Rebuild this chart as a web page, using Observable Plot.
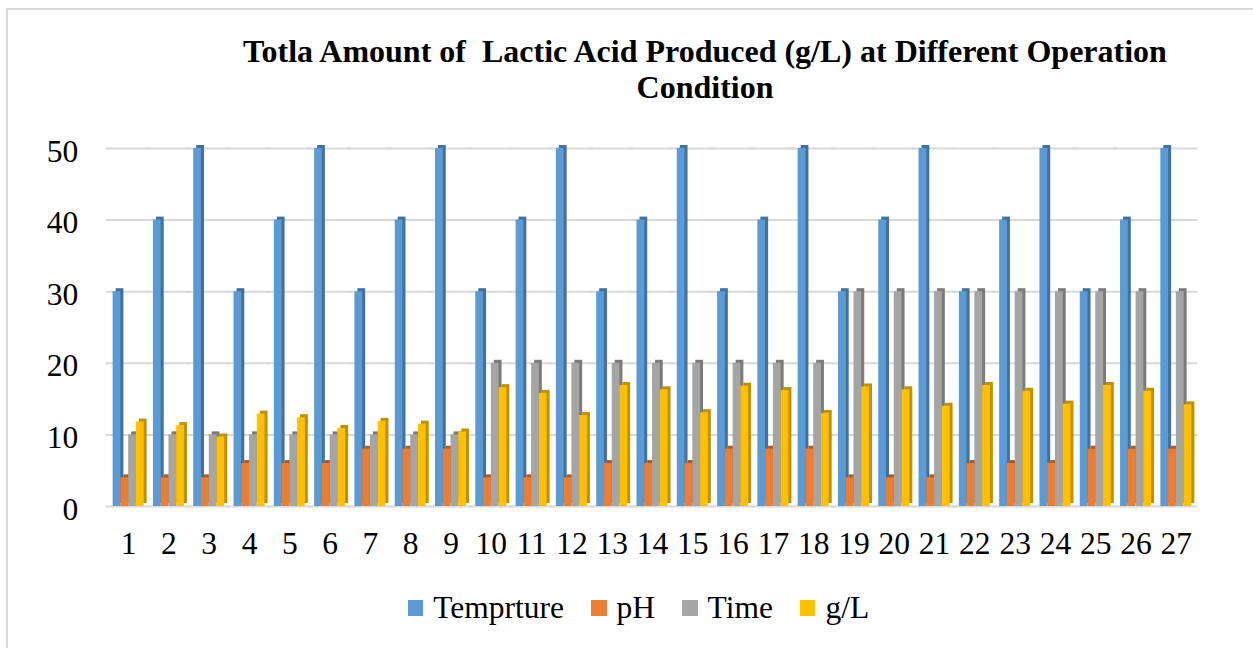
<!DOCTYPE html>
<html>
<head>
<meta charset="utf-8">
<script src="https://cdn.jsdelivr.net/npm/d3@7"></script>
<script src="https://cdn.jsdelivr.net/npm/@observablehq/plot@0.6"></script>
<style>
  html, body { margin: 0; padding: 0; background: #fff; overflow: hidden; }
  body { width: 1253px; height: 648px; position: relative; font-family: "Liberation Serif", "Times New Roman", serif; color: #000; }
  #frame { position: absolute; left: 6px; top: 8px; width: 1400px; height: 800px; border: 2px solid #d9d9d9; box-sizing: border-box; }
  #title { position: absolute; left: 157px; top: 33px; width: 1096px; text-align: center; font-weight: bold; font-size: 32px; line-height: 36px; white-space: pre; }
  #chart { position: absolute; left: 0; top: 110px; }
  #legend { position: absolute; left: 24px; top: 592px; width: 1229px; display: flex; justify-content: center; align-items: center; font-size: 31.5px; line-height: 32px; }
  .item { display: flex; align-items: center; margin: 0 13.5px; }
  .swatch { width: 15.5px; height: 15.5px; margin-right: 10px; }
</style>
</head>
<body>
<div id="frame"></div>
<div id="title">Totla Amount of  Lactic Acid Produced (g/L) at Different Operation
Condition</div>
<div id="chart"></div>
<div id="legend"></div>
<script>
// Experimental runs (x-axis categories)
const runs = ["1","2","3","4","5","6","7","8","9","10","11","12","13","14","15","16","17","18","19","20","21","22","23","24","25","26","27"];

// Series names as shown in the legend
const seriesNames = ["Temprture", "pH", "Time", "g/L"];

// Operating conditions and lactic acid yield per run
const temperature = [30,40,50,30,40,50,30,40,50,30,40,50,30,40,50,30,40,50,30,40,50,30,40,50,30,40,50];
const pH          = [4,4,4,6,6,6,8,8,8,4,4,4,6,6,6,8,8,8,4,4,4,6,6,6,8,8,8];
const time        = [10,10,10,10,10,10,10,10,10,20,20,20,20,20,20,20,20,20,30,30,30,30,30,30,30,30,30];
const gL          = [11.8,11.3,9.7,12.9,12.4,10.9,11.9,11.5,10.4,16.6,15.8,12.7,16.9,16.3,13.1,16.8,16.2,13.0,16.7,16.3,14.0,16.9,16.1,14.3,16.9,16.1,14.2];

// Y-axis tick values
const yTicks = [0, 10, 20, 30, 40, 50];

// Face and side colours of the pseudo-3D columns
const faceColors = ["#5B9BD5", "#ED7D31", "#A5A5A5", "#FFC000"];
const sideColors = ["#41719C", "#AE5A21", "#7B7B7B", "#BF9000"];

const seriesValues = [temperature, pH, time, gL];
const rows = [];
runs.forEach((run, i) => {
  seriesNames.forEach((s, j) => {
    rows.push({run, series: s, value: seriesValues[j][i], face: faceColors[j], side: sideColors[j]});
  });
});

const font = "'Liberation Serif', 'Times New Roman', serif";

const chart = Plot.plot({
  width: 1253,
  height: 470,
  marginLeft: 108,
  marginRight: 57,
  marginTop: 38,
  marginBottom: 74,
  style: {fontFamily: font, fontSize: "31.5px", color: "#000", background: "transparent", overflow: "visible"},
  fx: {domain: runs, paddingInner: 0.23, paddingOuter: 0.115, round: false, label: null},
  x: {domain: seriesNames, padding: 0, round: false, axis: null},
  y: {domain: [0, 50], axis: null},
  color: {type: "identity"},
  marks: [
    // gridlines, widened so neighbouring facets join into one line
    Plot.ruleY(yTicks, {stroke: "#d9d9d9", strokeWidth: 2, insetLeft: -7, insetRight: -6}),
    // darker side face, offset up and to the right
    Plot.barY(rows, {fx: "run", x: "series", y: "value", fill: "side", dx: 3, dy: -3}),
    // front face
    Plot.barY(rows, {fx: "run", x: "series", y: "value", fill: "face"}),
    Plot.axisY({ticks: yTicks, tickSize: 0, tickPadding: 35, dy: 3, fontSize: 31.5, label: null, tickFormat: d => String(d)}),
    Plot.axisFx({anchor: "bottom", tickSize: 0, tickPadding: 25, fontSize: 31.5, label: null})
  ]
});
document.getElementById("chart").appendChild(chart);

// Legend
const legend = document.getElementById("legend");
seriesNames.forEach((s, j) => {
  const item = document.createElement("div");
  item.className = "item";
  const sw = document.createElement("span");
  sw.className = "swatch";
  sw.style.background = faceColors[j];
  const label = document.createElement("span");
  label.textContent = s;
  item.appendChild(sw);
  item.appendChild(label);
  legend.appendChild(item);
});
</script>
</body>
</html>
